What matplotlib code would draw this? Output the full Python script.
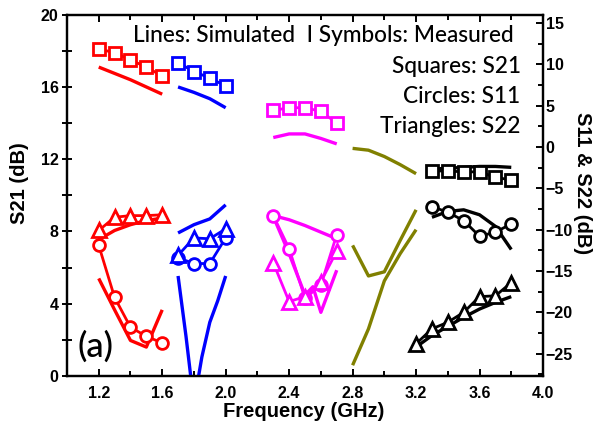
"""S-parameters of a multi-band filter: simulated lines vs measured symbols."""

import matplotlib
matplotlib.use("Agg")
import matplotlib.pyplot as plt
from matplotlib.ticker import MultipleLocator

# ---- data (S21 on left axis, S11/S22 on right axis) ----
red_x = [1.2, 1.3, 1.4, 1.5, 1.6]
red_s21_meas = [18.1, 17.9, 17.5, 17.1, 16.6]
red_s21_sim = [17.1, 16.75, 16.4, 16.0, 15.6]
red_s11_meas = [-11.9, -18.2, -21.8, -22.9, -23.7]
red_s11_sim = [-15.9, -19.7, -23.4, -24.2, -19.7]
red_s22_meas = [-10.1, -8.5, -8.3, -8.3, -8.2]
red_s22_sim = [-11.2, -10.1, -9.4, -8.9, -8.6]

blue_x = [1.7, 1.8, 1.9, 2.0]
blue_s21_meas = [17.35, 16.85, 16.5, 16.05]
blue_s21_sim = [16.0, 15.7, 15.35, 14.85]
blue_s11_meas = [-13.4, -14.1, -14.1, -11.0]
blue_s22_meas = [-13.1, -11.0, -11.1, -9.9]
blue_s22_sim = [-10.4, -9.4, -8.7, -7.0]
blue_s11_sim_x = [1.7, 1.75, 1.8, 1.85, 1.9, 1.95, 2.0]
blue_s11_sim = [-15.6, -22.9, -31.0, -25.4, -21.2, -18.6, -15.6]

mag_x = [2.3, 2.4, 2.5, 2.6, 2.7]
mag_s21_meas = [14.7, 14.85, 14.85, 14.65, 14.0]
mag_s21_sim = [13.2, 13.4, 13.4, 13.15, 12.85]
mag_s11_meas = [-8.3, -12.3, -18.3, -16.7, -10.6]
mag_s22_meas = [-14.0, -18.7, -18.1, -16.3, -12.6]
mag_s11_sim = [-8.3, -8.8, -9.5, -10.3, -11.1]
mag_s22_sim_x = [2.3, 2.4, 2.5, 2.55, 2.6, 2.7]
mag_s22_sim = [-8.4, -12.9, -17.9, -16.9, -20.0, -14.9]

olive_x = [2.8, 2.9, 3.0, 3.1, 3.2]
olive_s21_sim = [12.6, 12.5, 12.15, 11.7, 11.2]
olive_s11_sim = [-11.9, -15.6, -15.1, -11.3, -7.6]
olive_s22_sim = [-26.4, -22.0, -16.2, -12.9, -10.0]

black_x = [3.3, 3.4, 3.5, 3.6, 3.7, 3.8]
black_s21_meas = [11.35, 11.35, 11.3, 11.3, 11.0, 10.85]
black_s21_sim = [11.45, 11.5, 11.55, 11.6, 11.6, 11.55]
black_s11_meas = [-7.2, -7.9, -8.9, -10.8, -10.3, -9.3]
black_s11_sim = [-8.5, -7.8, -7.6, -8.2, -9.6, -12.4]
black_tri_x = [3.2, 3.3, 3.4, 3.5, 3.6, 3.7, 3.8]
black_s22_meas = [-23.8, -22.0, -21.2, -20.0, -18.1, -18.0, -16.4]
black_s22_sim = [-24.2, -22.8, -21.7, -20.6, -19.6, -18.8, -18.1]

RED, BLUE, MAG, OLIVE, BLACK = "#FF0000", "#0000FF", "#FF00FF", "#808000", "#000000"

plt.rcParams["font.family"] = ["Liberation Sans", "DejaVu Sans"]
plt.rcParams["font.weight"] = "bold"

fig = plt.figure(figsize=(6.01, 4.26), dpi=100)
ax = fig.add_axes([67 / 601, 1 - 376 / 426, 476 / 601, 361.3 / 426])
ax2 = ax.twinx()

SIM_LW = 2.4
MEAS_LW = 2.0


def meas(axis, x, y, color, marker, ms):
    axis.plot(x, y, color=color, lw=MEAS_LW, marker=marker, ms=ms,
              mfc="white", mec=color, mew=2.0, zorder=3)


def sim(axis, x, y, color):
    axis.plot(x, y, color=color, lw=SIM_LW, zorder=2, solid_capstyle="butt")


# S21 (left axis)
for x, s, m, c in [(red_x, red_s21_sim, red_s21_meas, RED),
                   (blue_x, blue_s21_sim, blue_s21_meas, BLUE),
                   (mag_x, mag_s21_sim, mag_s21_meas, MAG),
                   (black_x, black_s21_sim, black_s21_meas, BLACK)]:
    sim(ax, x, s, c)
    meas(ax, x, m, c, "s", 8)
sim(ax, olive_x, olive_s21_sim, OLIVE)

# S11 / S22 (right axis)
sim(ax2, red_x, red_s11_sim, RED)
sim(ax2, red_x, red_s22_sim, RED)
meas(ax2, red_x, red_s11_meas, RED, "o", 8.5)
meas(ax2, red_x, red_s22_meas, RED, "^", 9.5)

sim(ax2, blue_s11_sim_x, blue_s11_sim, BLUE)
sim(ax2, blue_x, blue_s22_sim, BLUE)
meas(ax2, blue_x, blue_s11_meas, BLUE, "o", 8.5)
meas(ax2, blue_x, blue_s22_meas, BLUE, "^", 9.5)

sim(ax2, mag_x, mag_s11_sim, MAG)
sim(ax2, mag_s22_sim_x, mag_s22_sim, MAG)
meas(ax2, mag_x, mag_s11_meas, MAG, "o", 8.5)
meas(ax2, mag_x, mag_s22_meas, MAG, "^", 9.5)

sim(ax2, olive_x, olive_s11_sim, OLIVE)
sim(ax2, olive_x, olive_s22_sim, OLIVE)

sim(ax2, black_x, black_s11_sim, BLACK)
sim(ax2, black_tri_x, black_s22_sim, BLACK)
meas(ax2, black_x, black_s11_meas, BLACK, "o", 8.5)
meas(ax2, black_tri_x, black_s22_meas, BLACK, "^", 9.5)

# axes, ticks
ax.set_xlim(1.0, 4.0)
ax.set_ylim(0, 20)
ax2.set_ylim(-27.7, 16)
ax.xaxis.set_major_locator(MultipleLocator(0.4))
ax.xaxis.set_minor_locator(MultipleLocator(0.2))
ax.yaxis.set_major_locator(MultipleLocator(4))
ax.yaxis.set_minor_locator(MultipleLocator(2))
ax2.yaxis.set_major_locator(MultipleLocator(5))
ax2.yaxis.set_minor_locator(MultipleLocator(2.5))
ax.xaxis.set_major_formatter(lambda v, p: f"{v:.1f}")

for sp in list(ax.spines.values()) + list(ax2.spines.values()):
    sp.set_linewidth(1.6)

ax.tick_params(axis="x", which="both", direction="in", top=True, width=1.4,
               labelsize=11.5, pad=7)
ax.tick_params(axis="x", which="major", length=5)
ax.tick_params(axis="x", which="minor", length=3.5)
ax.tick_params(axis="y", which="both", direction="inout", length=7, width=1.4,
               labelsize=11.5, pad=2.5)
ax2.tick_params(axis="y", which="both", direction="in", width=1.4,
                labelsize=11.5, pad=2)
ax2.tick_params(axis="y", which="major", length=5)
ax2.tick_params(axis="y", which="minor", length=3.5)

ax.set_xlabel("Frequency (GHz)", fontsize=14.5, fontweight="bold")
ax.xaxis.set_label_coords(0.498, -0.072)
ax.set_ylabel("S21 (dB)", fontsize=14.5, fontweight="bold", va="center")
ax.yaxis.set_label_coords(-0.099, 0.534)
ax2.set_ylabel("S11 & S22 (dB)", fontsize=14.5, fontweight="bold",
               rotation=270, va="center")
ax2.yaxis.set_label_coords(1.082, 0.534)

# annotations
note = dict(family=["Lato", "DejaVu Sans"], fontweight="medium", fontsize=16.3,
            transform=ax.transAxes)
ax.text(0.538, 0.925, "Lines: Simulated  I Symbols: Measured", ha="center", **note)
ax.text(0.953, 0.838, "Squares: S21", ha="right", **note)
ax.text(0.953, 0.755, "Circles: S11", ha="right", **note)
ax.text(0.953, 0.673, "Triangles: S22", ha="right", **note)
ax.text(0.023, 0.053, "(a)", ha="left", family=["Lato", "DejaVu Sans"],
        fontweight="medium", fontsize=25, transform=ax.transAxes)

fig.savefig("out.png", dpi=100)
